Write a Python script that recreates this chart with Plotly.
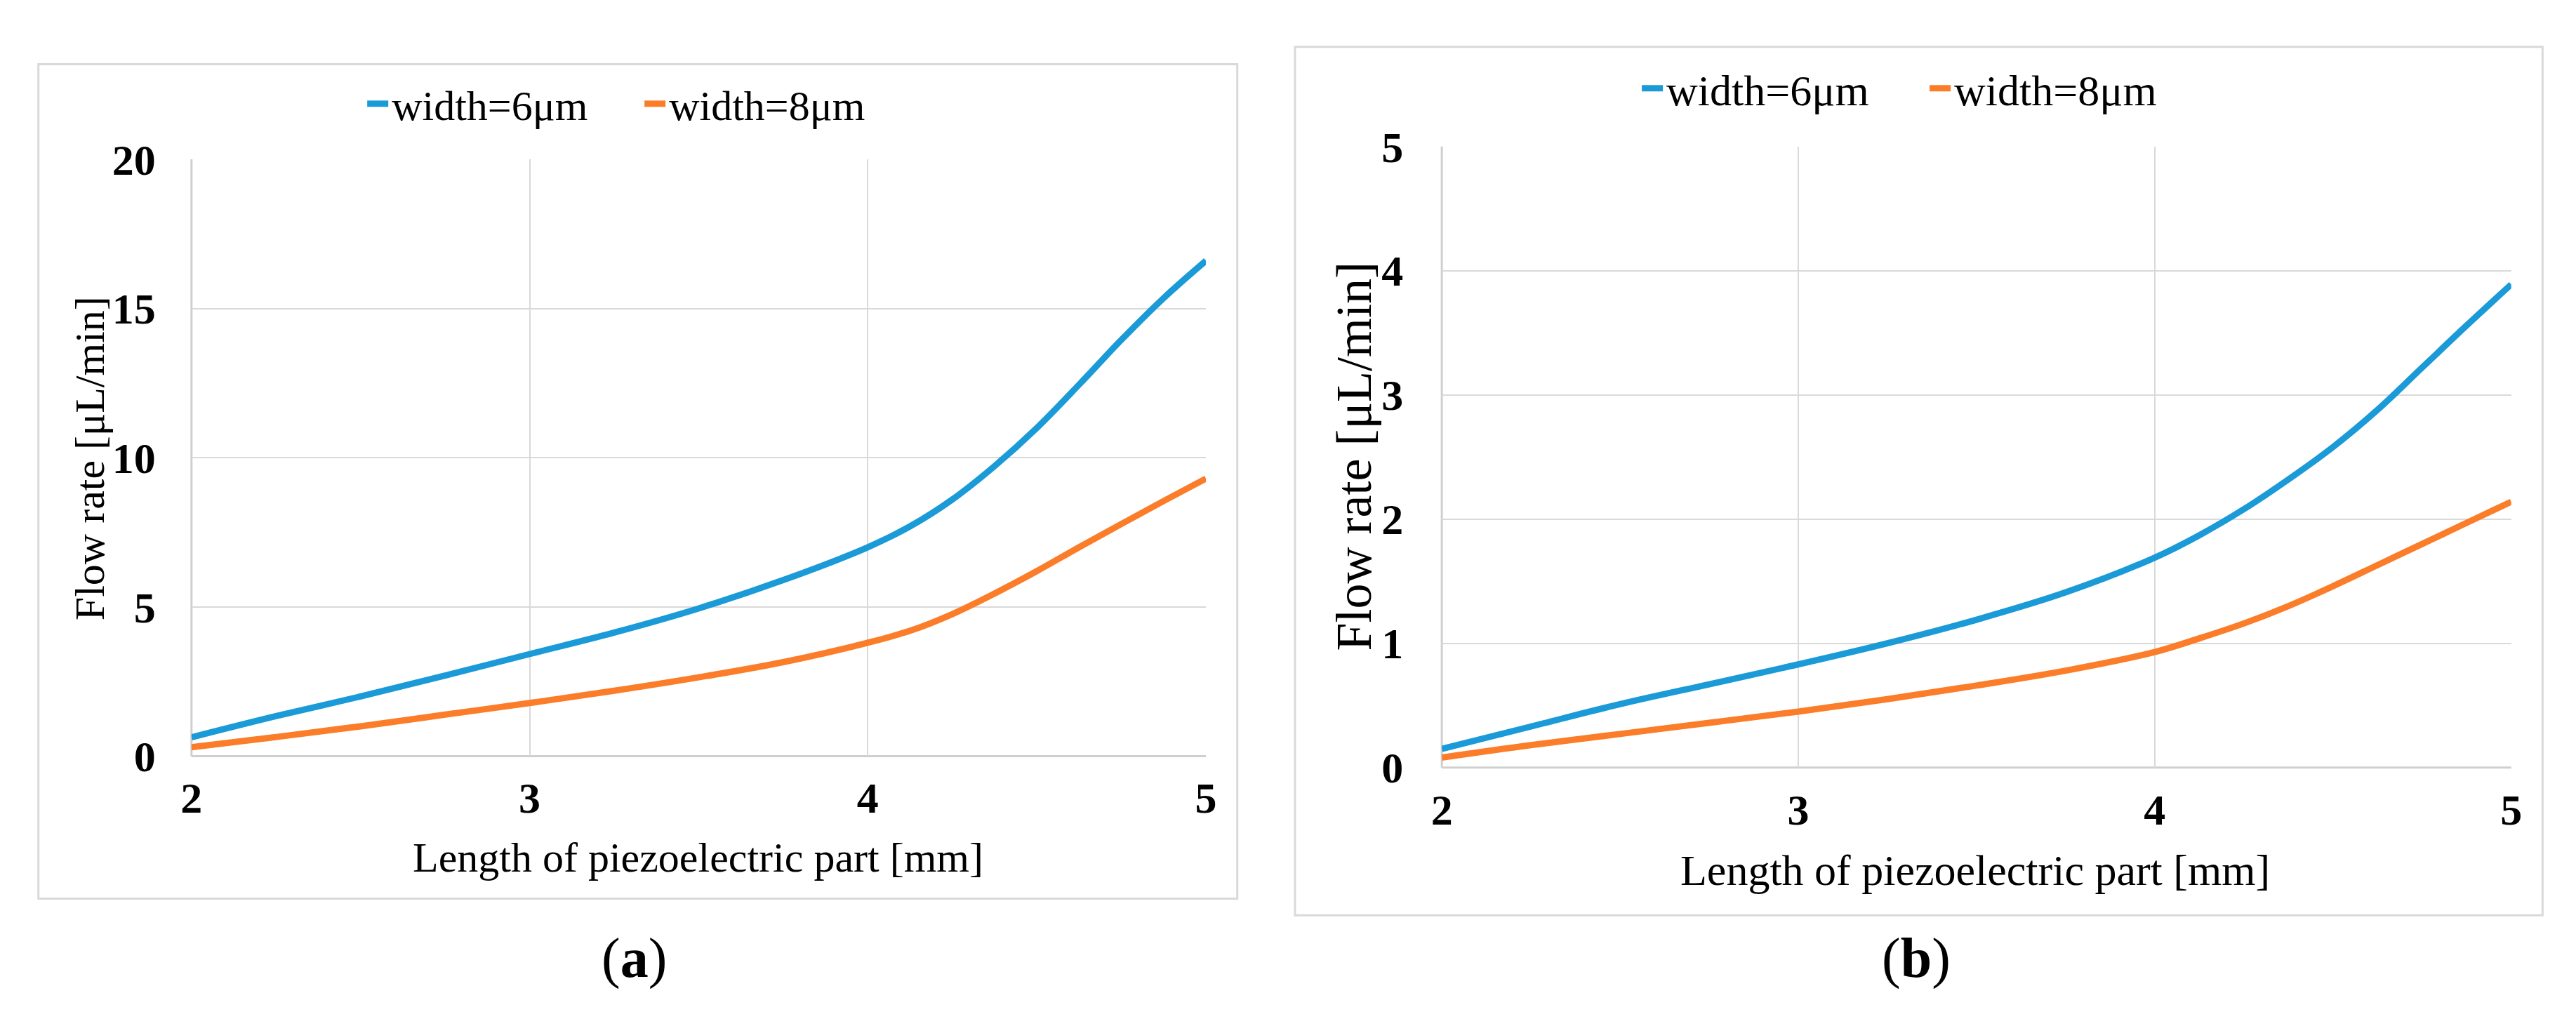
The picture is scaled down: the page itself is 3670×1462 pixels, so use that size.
import plotly.graph_objects as go

# ---------------- data ----------------
length_mm = [2, 2.25, 2.5, 2.75, 3, 3.25, 3.5, 3.75, 4, 4.125, 4.25, 4.375, 4.5, 4.625, 4.75, 4.875, 5]

a_w6 = [0.63, 1.34, 2.0, 2.7, 3.42, 4.14, 4.95, 5.9, 7.0, 7.7, 8.6, 9.72, 11.0, 12.45, 13.95, 15.35, 16.6]
a_w8 = [0.3, 0.64, 1.0, 1.39, 1.78, 2.19, 2.64, 3.15, 3.8, 4.2, 4.76, 5.45, 6.2, 7.0, 7.78, 8.55, 9.3]

b_w6 = [0.15, 0.33, 0.51, 0.67, 0.83, 1.0, 1.19, 1.41, 1.69, 1.87, 2.08, 2.32, 2.58, 2.88, 3.22, 3.56, 3.89]
b_w8 = [0.08, 0.18, 0.27, 0.36, 0.45, 0.55, 0.66, 0.78, 0.93, 1.04, 1.16, 1.3, 1.46, 1.63, 1.8, 1.97, 2.14]

series_names = ["width=6μm", "width=8μm"]
x_ticks = [2, 3, 4, 5]
a_y_ticks = [0, 5, 10, 15, 20]
b_y_ticks = [0, 1, 2, 3, 4, 5]
x_title = "Length of piezoelectric part [mm]"
y_title = "Flow rate [μL/min]"
captions = ["(<b>a</b>)", "(<b>b</b>)"]

# ---------------- style ----------------
W, H = 3670, 1462
OFF = 8  # default page body margin
BLUE = "#1b9ad8"
ORANGE = "#fb7d2a"
GRID = "#d9d9d9"
FONT = "Liberation Serif"


def px(x):
    return (x - OFF) / W


def py(y):
    return 1 - (y - OFF) / H


fig = go.Figure()

for xs, ys, name, color, xa, ya, lg in [
    (length_mm, a_w6, series_names[0], BLUE, "x", "y", "legend"),
    (length_mm, a_w8, series_names[1], ORANGE, "x", "y", "legend"),
    (length_mm, b_w6, series_names[0], BLUE, "x2", "y2", "legend2"),
    (length_mm, b_w8, series_names[1], ORANGE, "x2", "y2", "legend2"),
]:
    fig.add_trace(go.Scatter(x=xs, y=ys, name=name, mode="lines",
                             line=dict(color=color, width=9, shape="spline", smoothing=1.0),
                             xaxis=xa, yaxis=ya, legend=lg))

tickfont = dict(family=FONT, size=62, color="black", weight="bold")

common_x = dict(range=[2, 5], tickvals=x_ticks, showgrid=True, gridcolor=GRID, gridwidth=2,
                zeroline=False, showline=False, ticks="", tickfont=tickfont,
                ticklabelstandoff=18, fixedrange=True)
common_y = dict(showgrid=True, gridcolor=GRID, gridwidth=2, zeroline=False,
                showline=False, ticks="", tickfont=tickfont, fixedrange=True)

fig.update_layout(
    width=W, height=H, autosize=False,
    margin=dict(l=0, r=0, t=0, b=0),
    paper_bgcolor="white", plot_bgcolor="white",
    font=dict(family=FONT, color="black"),
    xaxis=dict(domain=[px(259), px(1717)], anchor="y", **common_x),
    yaxis=dict(domain=[py(1095), py(203)], anchor="x", range=[0, 20], tickvals=a_y_ticks,
               ticklabelstandoff=50, **common_y),
    xaxis2=dict(domain=[px(2056), px(3593)], anchor="y2", **common_x),
    yaxis2=dict(domain=[py(1112), py(184)], anchor="x2", range=[0, 5], tickvals=b_y_ticks,
                ticklabelstandoff=54, **common_y),
    legend=dict(orientation="h", x=px(905), xanchor="center", y=py(120), yanchor="middle",
                entrywidth=350, entrywidthmode="pixels",
                font=dict(family=FONT, size=60, color="black"), bgcolor="rgba(0,0,0,0)"),
    legend2=dict(orientation="h", x=px(2752), xanchor="center", y=py(97), yanchor="middle",
                 entrywidth=365, entrywidthmode="pixels",
                 font=dict(family=FONT, size=62, color="black"), bgcolor="rgba(0,0,0,0)"),
    showlegend=True,
)

AX = "#cfcfcf"
shapes = [
    # panel frames
    dict(type="rect", xref="paper", yref="paper", x0=px(39), x1=px(1762), y0=py(1308), y1=py(61),
         line=dict(color=GRID, width=3), fillcolor="rgba(0,0,0,0)", layer="below"),
    dict(type="rect", xref="paper", yref="paper", x0=px(1845), x1=px(3638), y0=py(1333), y1=py(35),
         line=dict(color=GRID, width=3), fillcolor="rgba(0,0,0,0)", layer="below"),
    # axis lines (bottom and left of plot areas)
    dict(type="line", xref="paper", yref="paper", x0=px(259), x1=px(1717), y0=py(1095), y1=py(1095),
         line=dict(color=AX, width=3), layer="below"),
    dict(type="line", xref="paper", yref="paper", x0=px(259), x1=px(259), y0=py(1095), y1=py(203),
         line=dict(color=AX, width=3), layer="below"),
    dict(type="line", xref="paper", yref="paper", x0=px(2056), x1=px(3593), y0=py(1112), y1=py(1112),
         line=dict(color=AX, width=3), layer="below"),
    dict(type="line", xref="paper", yref="paper", x0=px(2056), x1=px(2056), y0=py(1112), y1=py(184),
         line=dict(color=AX, width=3), layer="below"),
]
fig.update_layout(shapes=shapes)

annotations = [
    dict(text=x_title, x=px(987), y=py(1247), xref="paper", yref="paper", showarrow=False,
         xanchor="center", yanchor="middle", font=dict(family=FONT, size=60, color="black")),
    dict(text=x_title, x=px(2823), y=py(1266), xref="paper", yref="paper", showarrow=False,
         xanchor="center", yanchor="middle", font=dict(family=FONT, size=62, color="black")),
    dict(text=y_title, x=px(113), y=py(650), xref="paper", yref="paper", showarrow=False,
         textangle=-90, xanchor="center", yanchor="middle", font=dict(family=FONT, size=60, color="black")),
    dict(text=y_title, x=px(1930), y=py(647), xref="paper", yref="paper", showarrow=False,
         textangle=-90, xanchor="center", yanchor="middle", font=dict(family=FONT, size=72, color="black")),
    dict(text=captions[0], x=px(895), y=py(1397), xref="paper", yref="paper", showarrow=False,
         xanchor="center", yanchor="middle", font=dict(family=FONT, size=80, color="black")),
    dict(text=captions[1], x=px(2738), y=py(1397), xref="paper", yref="paper", showarrow=False,
         xanchor="center", yanchor="middle", font=dict(family=FONT, size=80, color="black")),
]
fig.update_layout(annotations=annotations)

fig.write_html("out.html")
